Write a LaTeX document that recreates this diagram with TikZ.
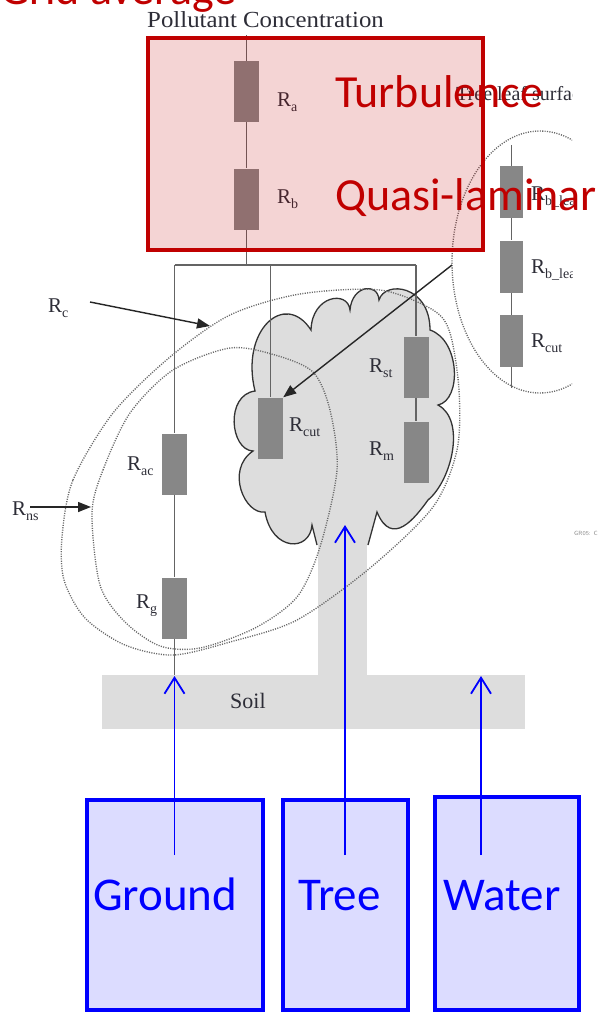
\documentclass[tikz,border=0pt]{standalone}
\usepackage{fontspec}
\usetikzlibrary{arrows.meta}
\newfontfamily\calfont{Carlito}
\newfontfamily\serfont{Liberation Serif}
\definecolor{deepred}{RGB}{192,0,0}
\definecolor{wiregray}{RGB}{100,100,100}
\definecolor{resgray}{RGB}{135,135,135}
\definecolor{soilgray}{RGB}{221,221,221}
\definecolor{inkgray}{RGB}{45,45,55}
\definecolor{dotgray}{RGB}{105,105,105}
\definecolor{boxblue}{RGB}{0,0,255}
\definecolor{paleblue}{RGB}{220,220,255}
% resistance symbol with a lowered subscript
\newcommand\resname[1]{R\raisebox{-5pt}{\fontsize{14}{14}\selectfont #1}}

\begin{document}
\begin{tikzpicture}[x=1pt,y=-1pt,
  wire/.style={draw=wiregray, line width=1.6pt},
  res/.style={rectangle, fill=resgray, inner sep=0pt, minimum width=25pt, minimum height=61pt},
  smallres/.style={res, minimum width=23pt, minimum height=52pt},
  rlabel/.style={anchor=base west, inner sep=0pt, text=inkgray, font=\serfont\fontsize{21}{21}\selectfont},
  dots/.style={draw=dotgray, line width=1.35pt, dash pattern=on 1.1pt off 1.3pt},
  ptr/.style={draw=black!85, line width=1.4pt, -{Triangle[length=13pt,width=10pt]}},
  feed/.style={draw=boxblue, line width=1.8pt, -{Straight Barb[length=16pt,width=20pt]}},
  bluebox/.style={rectangle, draw=boxblue, line width=4.5pt, fill=paleblue, inner sep=0pt},
  redbox/.style={rectangle, draw=deepred, line width=4pt, fill=deepred, fill opacity=0.17, inner sep=0pt},
  bigred/.style={anchor=base west, inner sep=0pt, text=deepred, font=\calfont\fontsize{46}{46}\selectfont},
  bigblue/.style={anchor=base west, inner sep=0pt, text=boxblue, font=\calfont\fontsize{47}{47}\selectfont},
  cloud/.style={fill=soilgray, draw=black!80, line width=1.3pt},
  ground/.style={rectangle, fill=soilgray, inner sep=0pt}]

\useasboundingbox (0,0) rectangle (610,1013);
\clip (0,0) rectangle (610,1013);

% soil and trunk
\node[ground, minimum width=423pt, minimum height=54pt] (soil) at (313.5,702) {};
\node[ground, minimum width=49pt, minimum height=156pt] (trunk) at (342.5,598) {};
\node[anchor=base west, inner sep=0pt, text=inkgray, font=\serfont\fontsize{22}{22}\selectfont] (soiltext) at (230,708) {Soil};

% tree crown
\filldraw[cloud] (317,545) -- (312,525)
  .. controls (310,552) and (272,552) .. (265,512)
  .. controls (245,515) and (225,470) .. (253,451)
  .. controls (230,450) and (225,395) .. (255,391)
  .. controls (240,330) and (285,290) .. (311,330)
  .. controls (312,295) and (348,290) .. (350,310)
  .. controls (352,285) and (378,282) .. (379,300)
  .. controls (385,280) and (430,285) .. (430,330)
  .. controls (460,340) and (462,400) .. (438,405)
  .. controls (466,420) and (452,480) .. (428,500)
  .. controls (415,518) and (392,548) .. (377,512)
  -- (368,545);

% canopy and soil resistance groups
\draw[dots] plot[smooth cycle] coordinates {(62,537) (73,480) (113,413) (170,357) (230,315) (300,294) (380,290) (433,310) (450,333) (459,390) (457,450) (433,507) (370,568) (297,620) (230,642) (173,655) (125,645) (85,618) (64,580)};
\draw[dots] plot[smooth cycle] coordinates {(92,513) (103,470) (130,413) (173,370) (230,348) (275,355) (313,372) (330,410) (337,470) (320,547) (297,597) (255,628) (200,648) (160,646) (125,622) (100,585)};

% leaf surface inset
\begin{scope}
  \clip (0,0) rectangle (572,1013);
  \draw[dots] (540,262) ellipse [x radius=88, y radius=131];
  \coordinate (leaftop) at (511.5,145);
  \coordinate (leafbot) at (511.5,388);
  \node[smallres] (rl1) at (511.5,192) {};
  \node[smallres] (rl2) at (511.5,266.5) {};
  \node[smallres] (rl3) at (511.5,341) {};
  \draw[wire] (leaftop) -- (rl1) -- (rl2) -- (rl3) -- (leafbot);
  \node[rlabel] (rl1lab) at (531,200) {\resname{b\_leaf}};
  \node[rlabel] (rl2lab) at (531,273) {\resname{b\_leaf}};
  \node[rlabel] (rl3lab) at (531,347) {\resname{cut}};
  \node[anchor=base west, inner sep=0pt, text=inkgray, font=\serfont\fontsize{20}{20}\selectfont] (leaftitle) at (456,100) {Tree leaf surface};
\end{scope}
\node[anchor=west, inner sep=0pt, text=black!45, font=\sffamily\fontsize{6}{6}\selectfont] (fignum) at (574,533) {GR05: C};

% resistance network
\node[anchor=base west, inner sep=0pt, text=inkgray, font=\serfont\fontsize{23}{23}\selectfont, xscale=1.08] (conc) at (147,27) {Pollutant Concentration};
\coordinate (conctop) at (246.5,35);
\coordinate (busmain) at (246.5,265);
\coordinate (busL) at (174.5,265);
\coordinate (busM) at (270.5,265);
\coordinate (busR) at (416,265);
\coordinate (soiltop) at (174.5,675);
\node[res] (ra) at (246.5,91.5) {};
\node[res] (rb) at (246.5,199) {};
\node[res] (rcut) at (270.5,428) {};
\node[res] (rst) at (416,367) {};
\node[res] (rm) at (416,452) {};
\node[res] (rac) at (174.5,464) {};
\node[res] (rg) at (174.5,608) {};
\draw[wire] (conctop) -- (ra) -- (rb) -- (busmain);
\draw[wire] (busL) -- (busR);
\draw[wire] (busL) -- (rac) -- (rg) -- (soiltop);
\draw[wire] (busM) -- (rcut);
\draw[wire] (busR) -- (rst) -- (rm);

\node[rlabel] (ralab) at (277,106) {\resname{a}};
\node[rlabel] (rblab) at (277,203) {\resname{b}};
\node[rlabel] (rcutlab) at (289,431) {\resname{cut}};
\node[rlabel] (rstlab) at (369,372) {\resname{st}};
\node[rlabel] (rmlab) at (369,455) {\resname{m}};
\node[rlabel] (raclab) at (127,470) {\resname{ac}};
\node[rlabel] (rglab) at (136,608) {\resname{g}};
\node[rlabel] (rclab) at (48,312) {\resname{c}};
\node[rlabel] (rnslab) at (12,515) {\resname{ns}};

% pointers
\coordinate (rcfrom) at (90,302);
\coordinate (rcto) at (210,326);
\coordinate (rnsfrom) at (30,507);
\coordinate (rnsto) at (91,507);
\coordinate (leafout) at (452,265);
\draw[ptr] (rcfrom) -- (rcto);
\draw[ptr] (rnsfrom) -- (rnsto);
\draw[ptr] (leafout) -- (rcut.north east);

% highlighted upper resistances
\node[redbox, minimum width=335pt, minimum height=212pt] (turbbox) at (315.5,144) {};
\node[bigred] (gridavg) at (0,4) {Grid average};
\node[bigred] (turb) at (335,107) {Turbulence};
\node[bigred] (quasi) at (335,210) {Quasi-laminar};

% surface types
\node[bluebox, minimum width=176pt, minimum height=210pt] (groundbox) at (175,905) {};
\node[bluebox, minimum width=125pt, minimum height=210pt] (treebox) at (345.5,905) {};
\node[bluebox, minimum width=144pt, minimum height=213pt] (waterbox) at (507,903.5) {};
\node[bigblue] (groundtext) at (93,910) {Ground};
\node[bigblue] (treetext) at (298,910) {Tree};
\node[bigblue] (watertext) at (443,910) {Water};
\coordinate (gfrom) at (174.5,855);
\coordinate (tfrom) at (345,855);
\coordinate (wfrom) at (481,855);
\coordinate (gto) at (174.5,676);
\coordinate (tto) at (345,525);
\coordinate (wto) at (481,676);
\draw[feed] (gfrom) -- (gto);
\draw[feed] (tfrom) -- (tto);
\draw[feed] (wfrom) -- (wto);
\end{tikzpicture}
\end{document}
